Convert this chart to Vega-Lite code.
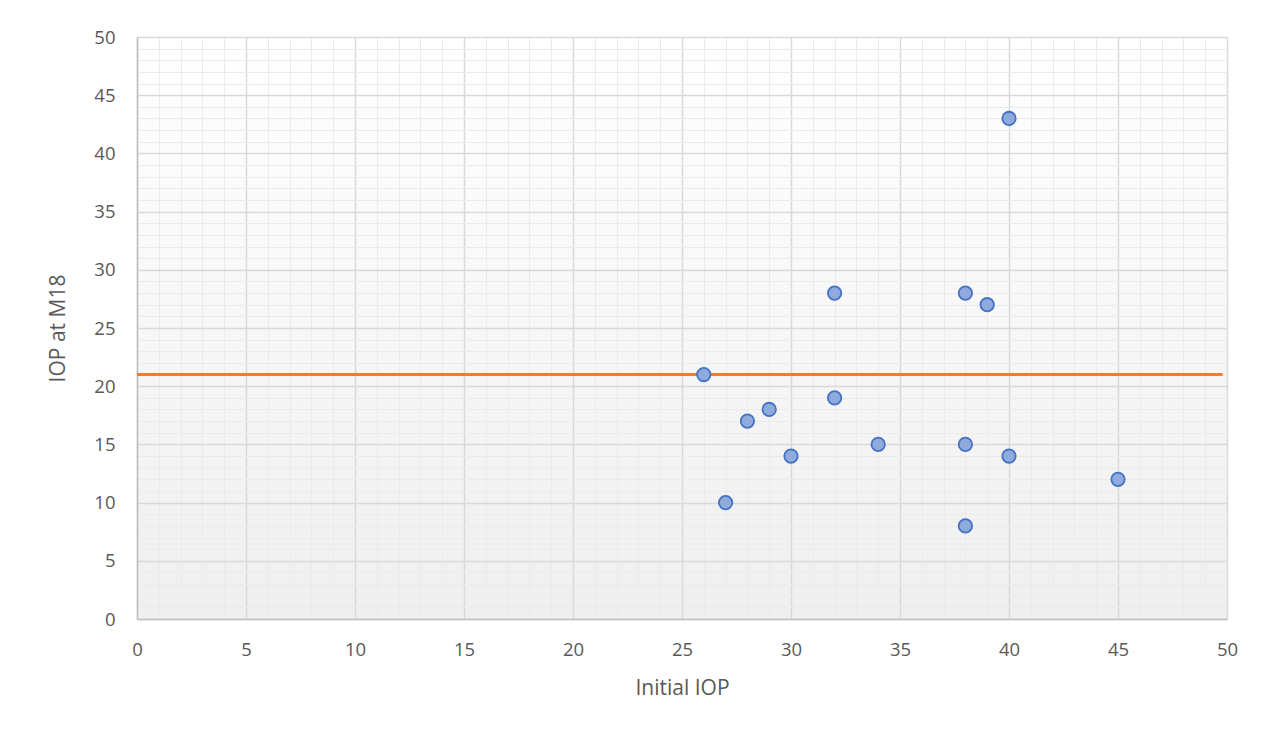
{
  "$schema": "https://vega.github.io/schema/vega-lite/v6.json",
  "width": 1090,
  "height": 582,
  "autosize": "none",
  "padding": {"left": 137, "top": 37, "right": 41, "bottom": 123},
  "background": "#ffffff",
  "config": {
    "view": {
      "stroke": null,
      "fill": {"gradient": "linear", "x1": 0, "y1": 0, "x2": 0, "y2": 1, "stops": [{"offset": 0, "color": "#ffffff"}, {"offset": 1, "color": "#efefef"}]}
    },
    "font": "Open Sans"
  },
  "datasets": {
    "pts": [
      {"initial": 26, "m18": 21},
      {"initial": 27, "m18": 10},
      {"initial": 28, "m18": 17},
      {"initial": 29, "m18": 18},
      {"initial": 30, "m18": 14},
      {"initial": 32, "m18": 28},
      {"initial": 32, "m18": 19},
      {"initial": 34, "m18": 15},
      {"initial": 38, "m18": 28},
      {"initial": 38, "m18": 15},
      {"initial": 38, "m18": 8},
      {"initial": 39, "m18": 27},
      {"initial": 40, "m18": 43},
      {"initial": 40, "m18": 14},
      {"initial": 45, "m18": 12}
    ],
    "thr": [
      {"initial": 0, "m18": 21},
      {"initial": 49.8, "m18": 21}
    ]
  },
  "encoding": {
    "x": {
      "field": "initial", "type": "quantitative",
      "scale": {"domain": [0, 50], "nice": false, "zero": true},
      "title": "Initial IOP",
      "axis": {
        "values": [0,1,2,3,4,5,6,7,8,9,10,11,12,13,14,15,16,17,18,19,20,21,22,23,24,25,26,27,28,29,30,31,32,33,34,35,36,37,38,39,40,41,42,43,44,45,46,47,48,49,50],
        "labelExpr": "datum.value % 5 === 0 ? datum.label : ''",
        "labelOverlap": false,
        "labelFlush": false,
        "labelFont": "Open Sans",
        "titleFont": "Open Sans",
        "labelFontSize": 18.5,
        "titleFontSize": 21,
        "labelColor": "#595959",
        "titleColor": "#595959",
        "titleFontWeight": "normal",
        "ticks": false,
        "domainColor": "#bfbfbf",
        "domainWidth": 1.5,
        "gridColor": {"condition": {"test": "datum.value % 5 === 0", "value": "#d9d9d9"}, "value": "#ebebeb"},
        "gridWidth": {"condition": {"test": "datum.value % 5 === 0", "value": 1.5}, "value": 1},
        "gridOpacity": 1,
        "labelPadding": 21,
        "titlePadding": 19
      }
    },
    "y": {
      "field": "m18", "type": "quantitative",
      "scale": {"domain": [0, 50], "nice": false, "zero": true},
      "title": "IOP at M18",
      "axis": {
        "values": [0,1,2,3,4,5,6,7,8,9,10,11,12,13,14,15,16,17,18,19,20,21,22,23,24,25,26,27,28,29,30,31,32,33,34,35,36,37,38,39,40,41,42,43,44,45,46,47,48,49,50],
        "labelExpr": "datum.value % 5 === 0 ? datum.label : ''",
        "labelOverlap": false,
        "labelFlush": false,
        "labelFont": "Open Sans",
        "titleFont": "Open Sans",
        "labelFontSize": 18.5,
        "titleFontSize": 21,
        "labelColor": "#595959",
        "titleColor": "#595959",
        "titleFontWeight": "normal",
        "ticks": false,
        "domainColor": "#bfbfbf",
        "domainWidth": 1.5,
        "gridColor": {"condition": {"test": "datum.value % 5 === 0", "value": "#d9d9d9"}, "value": "#ebebeb"},
        "gridWidth": {"condition": {"test": "datum.value % 5 === 0", "value": 1.5}, "value": 1},
        "gridOpacity": 1,
        "labelPadding": 22,
        "titlePadding": 25
      }
    }
  },
  "layer": [
    {
      "data": {"name": "thr"},
      "mark": {"type": "line", "color": "#ed7d31", "strokeWidth": 3}
    },
    {
      "data": {"name": "pts"},
      "mark": {"type": "point", "filled": true, "fill": "#8faadc", "stroke": "#4472c4", "strokeWidth": 1.8, "size": 180, "opacity": 1, "fillOpacity": 1}
    }
  ]
}
